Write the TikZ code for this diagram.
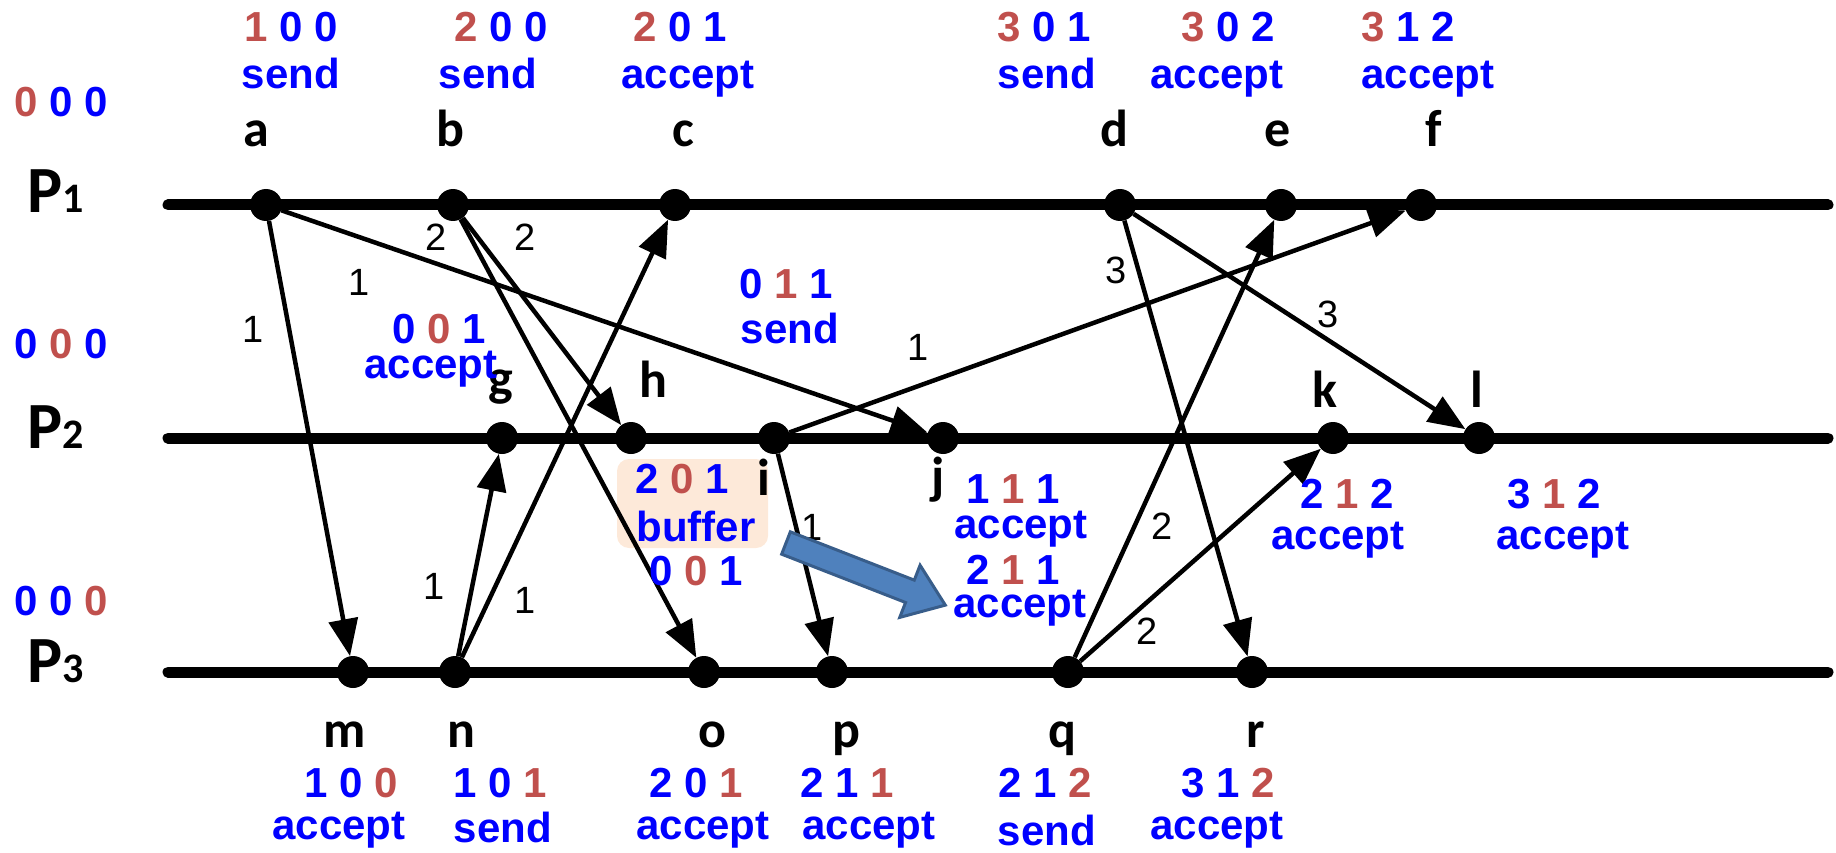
\documentclass[tikz,border=0pt]{standalone}
\usepackage{fontspec}
\setmainfont{Liberation Sans}
\newfontfamily\lblfont{Carlito}
\usetikzlibrary{arrows.meta}
\definecolor{vred}{HTML}{C0504D}
\definecolor{vblue}{HTML}{0000FF}
\definecolor{peach}{HTML}{FDE9D9}
\definecolor{arrfill}{HTML}{4F81BD}
\definecolor{arrdraw}{HTML}{385D8A}
\newcommand{\rr}[1]{\textcolor{vred}{#1}}
\tikzset{
 proc/.style={line width=11pt, line cap=round},
 ev/.style={circle, fill=black, inner sep=0pt, minimum size=32pt},
 msg/.style={line width=4.5pt, -{Triangle[length=37pt,width=29pt]}},
 vec/.style={anchor=base, inner sep=0pt, text=vblue, font=\fontsize{42}{48}\selectfont\bfseries},
 lbl/.style={anchor=base, inner sep=0pt, font=\lblfont\fontsize{52}{58}\selectfont\bfseries},
 num/.style={inner sep=0pt, font=\fontsize{38}{44}\selectfont},
 plbl/.style={anchor=base west, inner sep=0pt, font=\lblfont\fontsize{66}{70}\selectfont\bfseries},
 bufbox/.style={fill=peach, rounded corners=12pt, minimum width=151pt, minimum height=89pt, inner sep=0pt},
 bigarrow/.style={fill=arrfill, draw=arrdraw, line width=3pt, line join=miter}
}
\begin{document}
\begin{tikzpicture}[x=1pt,y=-1pt]
\useasboundingbox (0,0) rectangle (1836,853);
% process lines
\coordinate (s1) at (168,205); \coordinate (e1) at (1828,205);
\coordinate (s2) at (168,438); \coordinate (e2) at (1828,438);
\coordinate (s3) at (168,672); \coordinate (e3) at (1828,672);
\draw[proc] (s1) -- (e1);
\draw[proc] (s2) -- (e2);
\draw[proc] (s3) -- (e3);
% buffer box
\node[bufbox] (buf) at (692.5,503.5) {};
% events
\node[ev] (a) at (266,205) {};
\node[ev] (b) at (453,205) {};
\node[ev] (c) at (675,205) {};
\node[ev] (d) at (1120,205) {};
\node[ev] (e) at (1281,205) {};
\node[ev] (f) at (1421,205) {};
\node[ev] (g) at (502,438) {};
\node[ev] (h) at (631,438) {};
\node[ev] (i) at (774,438) {};
\node[ev] (j) at (943,438) {};
\node[ev] (k) at (1333,438) {};
\node[ev] (l) at (1479,438) {};
\node[ev] (m) at (353,672) {};
\node[ev] (n) at (455,672) {};
\node[ev] (o) at (704,672) {};
\node[ev] (p) at (832,672) {};
\node[ev] (q) at (1068,672) {};
\node[ev] (r) at (1252,672) {};
% messages
\draw[msg] (a) -- (m);
\draw[msg] (a) -- (j);
\draw[msg] (b) -- (h);
\draw[msg] (b) -- (o);
\draw[msg] (n) -- (g);
\draw[msg] (n) -- (c);
\draw[msg] (i) -- (f);
\draw[msg] (i) -- (p);
\draw[msg] (d) -- (r);
\draw[msg] (d) -- (l);
\draw[msg] (q) -- (e);
\draw[msg] (q) -- (k);
% message labels
\node[num] (n1) at (253,329) {1};
\node[num] (n2) at (359,282) {1};
\node[num] (n3) at (436,237) {2};
\node[num] (n4) at (525,237) {2};
\node[num] (n5) at (434,586) {1};
\node[num] (n6) at (525,600) {1};
\node[num] (n7) at (918,347) {1};
\node[num] (n8) at (812,527) {1};
\node[num] (n9) at (1116,270) {3};
\node[num] (n10) at (1328,314) {3};
\node[num] (n11) at (1162,526) {2};
\node[num] (n12) at (1147,631) {2};
% process labels
\node[plbl] (P1) at (27,213) {P{\fontsize{42}{44}\selectfont 1}};
\node[plbl] (P2) at (27,448) {P{\fontsize{42}{44}\selectfont 2}};
\node[plbl] (P3) at (27,682) {P{\fontsize{42}{44}\selectfont 3}};
\node[vec] (i1) at (61,117) {\rr{0} 0 0};
\node[vec] (i2) at (61,358) {0 \rr{0} 0};
\node[vec] (i3) at (61,615) {0 0 \rr{0}};
% event letters
\node[lbl] (la) at (256,147) {a};
\node[lbl] (lb) at (450,147) {b};
\node[lbl] (lc) at (683,147) {c};
\node[lbl] (ld) at (1114,147) {d};
\node[lbl] (le) at (1278,147) {e};
\node[lbl] (lf) at (1434,147) {f};
\node[lbl] (lg) at (501,395) {g};
\node[lbl] (lh) at (653,397) {h};
\node[lbl] (li) at (764,495) {i};
\node[lbl] (lj) at (938,493) {j};
\node[lbl] (lk) at (1325,407) {k};
\node[lbl] (ll) at (1477,407) {l};
\node[lbl] (lm) at (345,747) {m};
\node[lbl] (ln) at (461,747) {n};
\node[lbl] (lo) at (712,747) {o};
\node[lbl] (lp) at (846,747) {p};
\node[lbl] (lq) at (1062,747) {q};
\node[lbl] (lr) at (1256,747) {r};
% vectors top
\node[vec] (va) at (291,42) {\rr{1} 0 0};
\node[vec] (wa) at (291,89) {send};
\node[vec] (vb) at (501,42) {\rr{2} 0 0};
\node[vec] (wb) at (488,89) {send};
\node[vec] (vc) at (680,42) {\rr{2} 0 1};
\node[vec] (wc) at (688,89) {accept};
\node[vec] (vd) at (1044,42) {\rr{3} 0 1};
\node[vec] (wd) at (1047,89) {send};
\node[vec] (ve) at (1228,42) {\rr{3} 0 2};
\node[vec] (we) at (1217,89) {accept};
\node[vec] (vf) at (1408,42) {\rr{3} 1 2};
\node[vec] (wf) at (1428,89) {accept};
% vectors middle
\node[vec] (vg) at (439,343) {0 \rr{0} 1};
\node[vec] (wg) at (431,378) {accept};
\node[vec] (vh) at (682,493) {2 \rr{0} 1};
\node[vec] (wh) at (696,541) {buffer};
\node[vec] (vh2) at (696,585) {0 \rr{0} 1};
\node[vec] (vi) at (786,298) {0 \rr{1} 1};
\node[vec] (wi) at (790,343) {send};
\node[vec] (vj) at (1013,503) {1 \rr{1} 1};
\node[vec] (wj) at (1021,538) {accept};
\node[vec] (vj2) at (1013,584) {2 \rr{1} 1};
\node[vec] (wj2) at (1020,617) {accept};
\node[vec] (vk) at (1347,508) {2 \rr{1} 2};
\node[vec] (wk) at (1338,549) {accept};
\node[vec] (vl) at (1554,508) {3 \rr{1} 2};
\node[vec] (wl) at (1563,549) {accept};
% vectors bottom
\node[vec] (vm) at (351,797) {1 0 \rr{0}};
\node[vec] (wm) at (339,839) {accept};
\node[vec] (vn) at (500,797) {1 0 \rr{1}};
\node[vec] (wn) at (503,842) {send};
\node[vec] (vo) at (696,797) {2 0 \rr{1}};
\node[vec] (wo) at (703,839) {accept};
\node[vec] (vp) at (847,797) {2 1 \rr{1}};
\node[vec] (wp) at (869,839) {accept};
\node[vec] (vq) at (1045,797) {2 1 \rr{2}};
\node[vec] (wq) at (1047,845) {send};
\node[vec] (vr) at (1228,797) {3 1 \rr{2}};
\node[vec] (wr) at (1217,839) {accept};
% big blue arrow
\begin{scope}[shift={(786,543)}, rotate=-21.3]
\draw[bigarrow] (0,12) -- (133,12) -- (133,28) -- (171,0) -- (133,-28) -- (133,-12) -- (0,-12) -- cycle;
\end{scope}
\end{tikzpicture}
\end{document}
